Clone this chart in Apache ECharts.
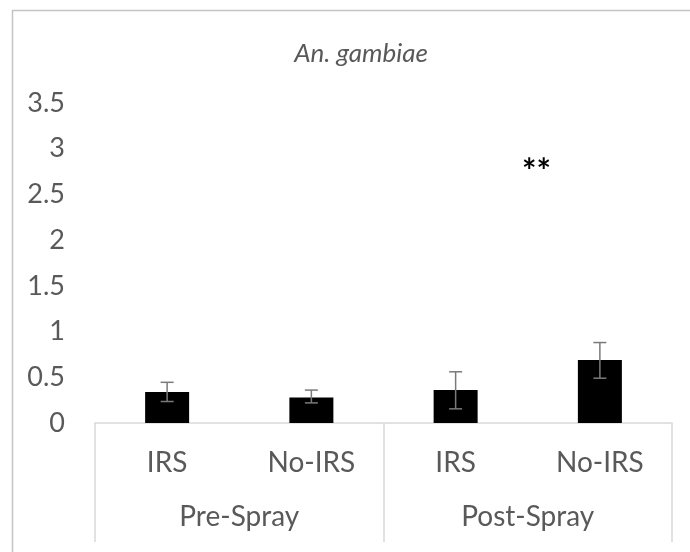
<!DOCTYPE html>
<html>
<head>
<meta charset="utf-8">
<script src="https://cdn.jsdelivr.net/npm/echarts@6/dist/echarts.min.js"></script>
<style>
html,body{margin:0;padding:0;background:#fff;}
#chart{width:690px;height:552px;}
</style>
</head>
<body>
<div id="chart"></div>
<script>
// ---- data ----
const categories = ["IRS", "No-IRS", "IRS", "No-IRS"];
const groups = ["Pre-Spray", "Post-Spray"];
const means = [0.34, 0.28, 0.36, 0.69];
const errLow = [0.235, 0.22, 0.155, 0.49];
const errHigh = [0.445, 0.36, 0.56, 0.88];
const yTicks = [0, 0.5, 1, 1.5, 2, 2.5, 3, 3.5];
const titleText = "An. gambiae";
const annotation = "**";

const FONT = "Lato";
const GREY = "#595959";

const chart = echarts.init(document.getElementById('chart'), null, {renderer: 'canvas'});

const errData = means.map((m, i) => [i, errLow[i], errHigh[i]]);

const option = {
  backgroundColor: '#fff',
  animation: false,
  title: {
    text: titleText,
    left: 356, top: 36, textAlign: 'center',
    textStyle: {fontFamily: FONT, fontStyle: 'italic', fontWeight: 'normal', fontSize: 26, color: GREY}
  },
  grid: {left: 95, right: 18, top: 103, bottom: 129, containLabel: false},
  xAxis: [
    {
      type: 'category', data: categories, position: 'bottom',
      axisLine: {show: true, lineStyle: {color: '#d9d9d9', width: 1.5}},
      axisTick: {show: false},
      axisLabel: {fontFamily: FONT, fontSize: 28, color: GREY, margin: 26, interval: 0}
    },
    {
      type: 'category', data: groups, position: 'bottom', offset: 0,
      axisLine: {show: false},
      axisTick: {show: true, length: 119, alignWithLabel: false, lineStyle: {color: '#d9d9d9', width: 1.5}},
      axisLabel: {fontFamily: FONT, fontSize: 28, color: GREY, margin: 80, interval: 0}
    }
  ],
  yAxis: {
    type: 'value', min: yTicks[0], max: yTicks[yTicks.length - 1], interval: 0.5,
    axisLine: {show: false}, axisTick: {show: false}, splitLine: {show: false},
    axisLabel: {fontFamily: FONT, fontSize: 27, color: GREY, margin: 30}
  },
  series: [
    {
      type: 'bar', xAxisIndex: 0, data: means, barWidth: 44,
      itemStyle: {color: '#000'}
    },
    {
      type: 'custom', xAxisIndex: 0, data: errData,
      encode: {x: 0, y: [1, 2]}, z: 10,
      renderItem: function (params, api) {
        const lo = api.coord([api.value(0), api.value(1)]);
        const hi = api.coord([api.value(0), api.value(2)]);
        const hw = 6.5;
        const style = {stroke: '#7a7a7a', lineWidth: 1.5};
        return {
          type: 'group',
          children: [
            {type: 'line', shape: {x1: lo[0], y1: lo[1], x2: hi[0], y2: hi[1]}, style: style},
            {type: 'line', shape: {x1: hi[0] - hw, y1: hi[1], x2: hi[0] + hw, y2: hi[1]}, style: style},
            {type: 'line', shape: {x1: lo[0] - hw, y1: lo[1], x2: lo[0] + hw, y2: lo[1]}, style: style}
          ]
        };
      }
    }
  ],
  graphic: [
    {type: 'rect', left: 10, top: 8, shape: {width: 700, height: 600},
      style: {fill: 'none', stroke: '#c4c4c4', lineWidth: 1.5}, silent: true},
    {type: 'text', left: 522, top: 155,
      style: {text: annotation, font: 'bold 34px Lato', fill: '#000'}}
  ]
};
chart.setOption(option);
</script>
</body>
</html>
